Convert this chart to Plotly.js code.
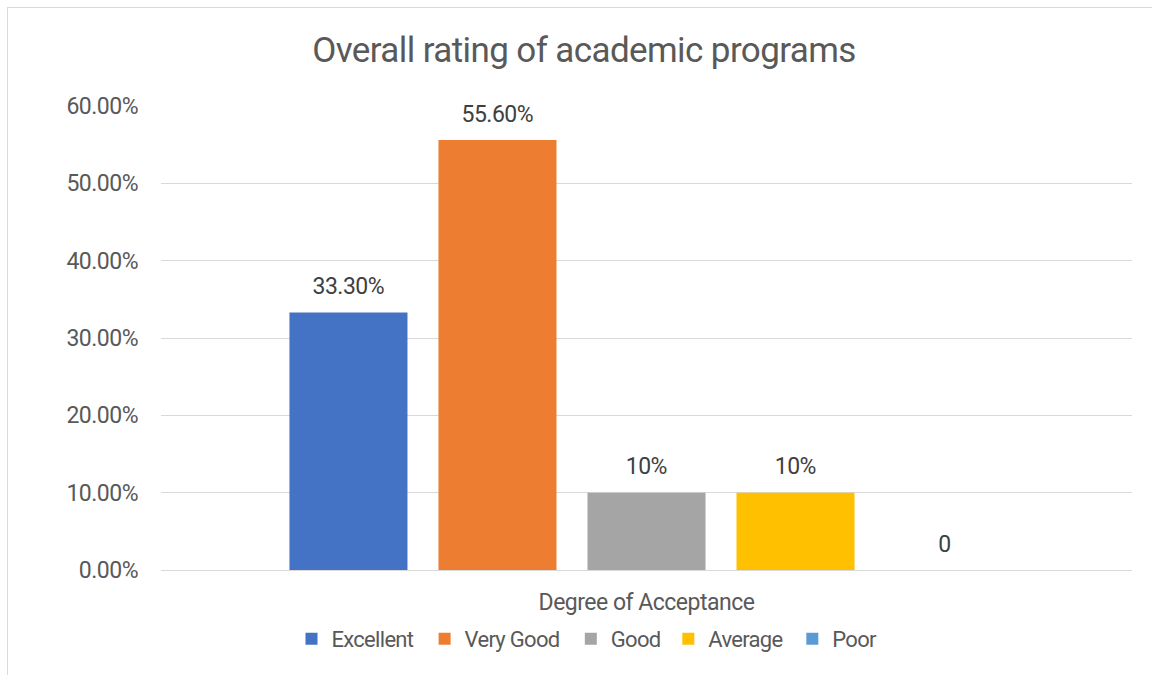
<!DOCTYPE html>
<html>
<head>
<meta charset="utf-8">
<script src="https://cdn.plot.ly/plotly-3.0.1.min.js"></script>
<style>
  html, body { margin: 0; padding: 0; background: #ffffff; overflow: hidden; }
  #chart { position: absolute; left: 0; top: 0; width: 1152px; height: 675px; }
  #chart text { letter-spacing: -0.5px; }
  #chart .gtitle { letter-spacing: -0.6px; }
  #chart .legendtext { letter-spacing: -0.7px; }
  #frame { position: absolute; left: 7px; top: 7px; width: 2000px; height: 2000px;
           border: 1px solid #d9d9d9; pointer-events: none; }
</style>
</head>
<body>
<div id="chart"></div>
<div id="frame"></div>
<script>
// ---- data ----
const categories = ['Excellent', 'Very Good', 'Good', 'Average', 'Poor'];
const values = [0.333, 0.556, 0.10, 0.10, 0];
const valueLabels = ['33.30%', '55.60%', '10%', '10%', '0'];
const colors = ['#4472C4', '#ED7D31', '#A5A5A5', '#FFC000', '#5B9BD5'];
const groupLabel = 'Degree of Acceptance';
const yTicks = [0, 0.1, 0.2, 0.3, 0.4, 0.5, 0.6];
const chartTitle = 'Overall rating of academic programs';

const FONT = 'Roboto, "Liberation Sans", sans-serif';
const TXT = '#595959';

const traces = categories.map((c, i) => ({
  type: 'bar',
  name: c,
  x: [i],
  y: [values[i]],
  width: 0.792,
  marker: { color: colors[i] },
  hoverinfo: 'skip'
}));

const annotations = categories.map((c, i) => ({
  x: i, y: values[i], xref: 'x', yref: 'y',
  text: valueLabels[i], showarrow: false,
  xanchor: 'center', yanchor: 'middle', yshift: 26,
  font: { family: FONT, size: 23, color: '#404040' }
}));

const layout = {
  width: 1152, height: 675,
  margin: { l: 161, r: 20, t: 106, b: 105 },
  paper_bgcolor: 'rgba(0,0,0,0)', plot_bgcolor: '#ffffff',
  font: { family: FONT, color: TXT, size: 23 },
  title: {
    text: chartTitle,
    font: { family: FONT, size: 35, color: TXT },
    xref: 'container', yref: 'container',
    x: 584 / 1152, xanchor: 'center',
    y: 1 - 50 / 675, yanchor: 'middle'
  },
  barmode: 'overlay',
  showlegend: true,
  legend: {
    orientation: 'h',
    xref: 'container', yref: 'container',
    x: 588 / 1152, xanchor: 'center',
    y: 1 - 639 / 675, yanchor: 'middle',
    font: { family: FONT, size: 22, color: TXT },
    traceorder: 'normal'
  },
  xaxis: {
    range: [-1.258, 5.258],
    tickmode: 'array', tickvals: [2], ticktext: [groupLabel],
    ticks: '', showgrid: false, zeroline: false,
    showline: true, linecolor: '#d9d9d9', linewidth: 1,
    tickfont: { family: FONT, size: 23, color: TXT },
    ticklabelstandoff: 11,
    fixedrange: true
  },
  yaxis: {
    range: [0, 0.6],
    tickmode: 'array', tickvals: yTicks,
    tickformat: '.2%',
    ticks: '', showline: false,
    showgrid: true, gridcolor: '#d9d9d9', gridwidth: 1,
    zeroline: false,
    tickfont: { family: FONT, size: 23, color: TXT },
    ticklabelstandoff: 22,
    fixedrange: true
  },
  annotations: annotations,
  hovermode: false
};

Plotly.newPlot('chart', traces, layout, { displayModeBar: false, staticPlot: true });
</script>
</body>
</html>
